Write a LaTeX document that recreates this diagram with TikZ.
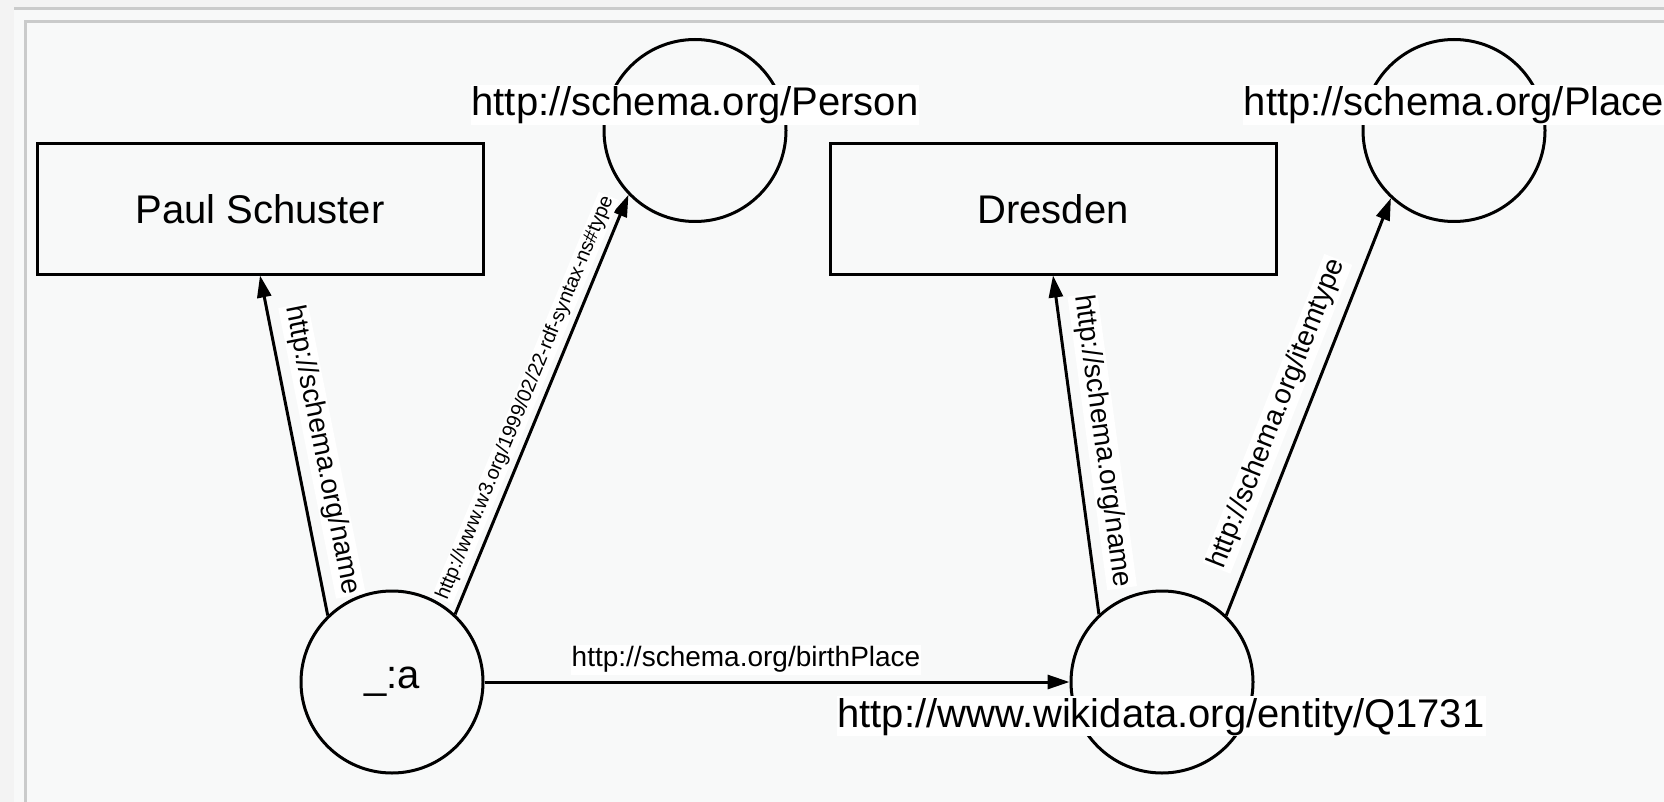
\documentclass[tikz,border=0pt]{standalone}
\usepackage{fontspec}
\setmainfont{Liberation Sans}
\usetikzlibrary{arrows.meta}
\definecolor{pagebg}{RGB}{243,243,243}
\definecolor{panelbg}{RGB}{248,249,249}
\definecolor{rulegray}{RGB}{202,203,203}
\tikzset{
  res/.style={circle, draw, line width=3pt, minimum size=182pt, inner sep=0pt,
    font=\fontsize{40}{48}\selectfont},
  lit/.style={rectangle, draw, line width=3pt, minimum width=446pt,
    minimum height=130pt, font=\fontsize{40}{48}\selectfont},
  iri/.style={fill=white, inner sep=1pt, text height=30pt, text depth=8pt,
    font=\fontsize{40}{48}\selectfont},
  prop/.style={line width=3pt, -{Triangle[length=22pt,width=14pt]}},
  plabel/.style={fill=white, inner sep=1pt, text height=21pt, text depth=7pt,
    font=\fontsize{28}{32}\selectfont, sloped},
  smalllabel/.style={fill=white, inner sep=1pt, text height=15pt, text depth=5pt,
    font=\fontsize{20}{24}\selectfont, sloped},
}
\begin{document}
\begin{tikzpicture}[x=1pt,y=-1pt]
  % page and panel frame
  \fill[pagebg] (0,0) rectangle (1664,802);
  \useasboundingbox (0,0) rectangle (1664,802);
  \fill[panelbg] (14,7) rectangle (1664,802);
  \draw[rulegray, line width=2.5pt] (14,8.3) -- (1664,8.3);
  \draw[rulegray, line width=3pt] (25.5,802) -- (25.5,21.5) -- (1664,21.5);

  % resources and literals
  \node[res] (a) at (392,682) {\_:a};
  \node[res] (q) at (1162,682) {};
  \node[res] (person) at (695,130.5) {};
  \node[res] (place) at (1454,130.5) {};
  \node[lit] (paul) at (260,209) {Paul Schuster};
  \node[lit] (dresden) at (1053,209) {Dresden};

  % properties
  \draw[prop] (a.134) -- (paul.south)
    node[plabel, pos=0.47, above=10pt] {http://schema.org/name};
  \draw[prop] (a.47) -- (person.224)
    node[smalllabel, pos=0.5, above=5pt] {http://www.w3.org/1999/02/22-rdf-syntax-ns\#type};
  \draw[prop] (q.133) -- (dresden.south)
    node[plabel, pos=0.5, above=10pt] {http://schema.org/name};
  \draw[prop] (q.46) -- (place.227)
    node[plabel, pos=0.46, above=10pt] {http://schema.org/itemtype};
  \draw[prop] (a.east) -- (q.west)
    node[plabel, pos=0.447, above=6pt] {http://schema.org/birthPlace};

  % resource names
  \node[iri] (personlbl) at (695,105) {http://schema.org/Person};
  \node[iri] (placelbl) at (1454,105) {http://schema.org/Place};
  \node[iri] (qlbl) at (1161,716) {http://www.wikidata.org/entity/Q1731};
\end{tikzpicture}
\end{document}
